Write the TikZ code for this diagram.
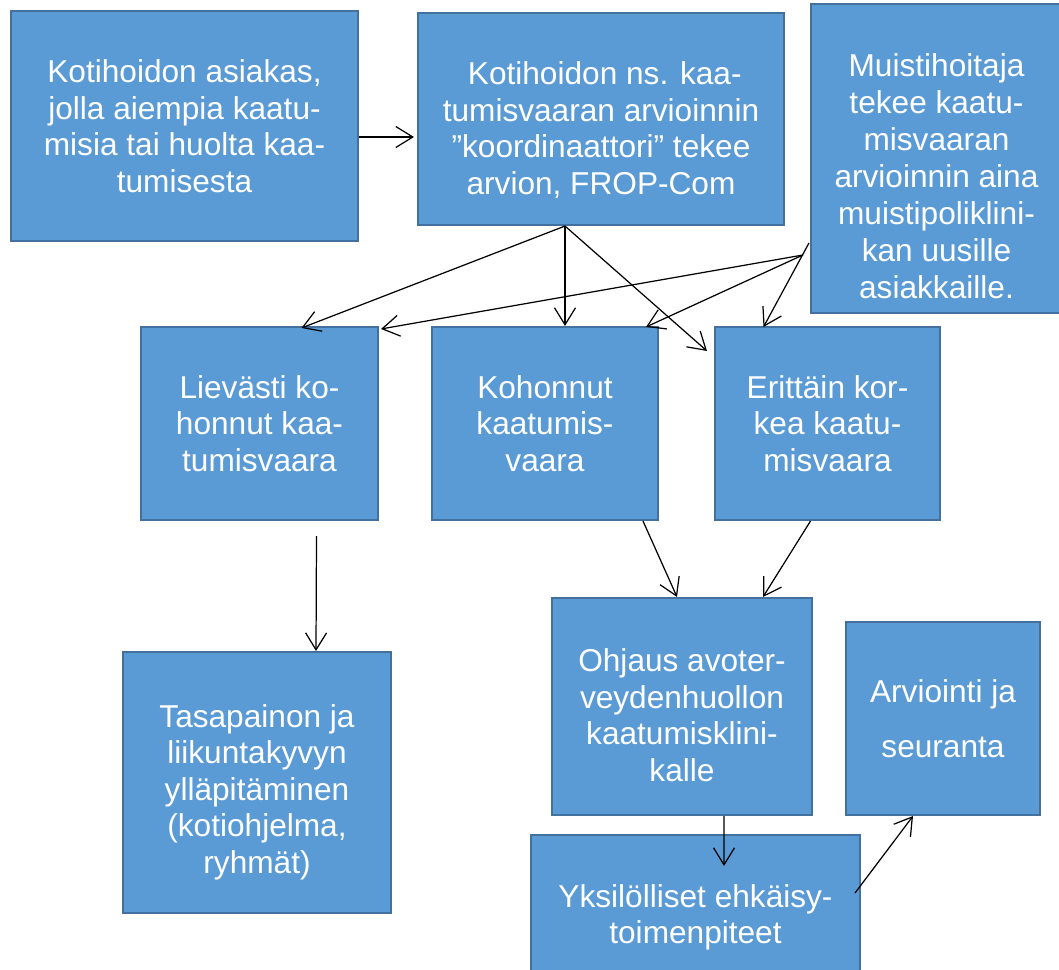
\documentclass[tikz,border=0pt]{standalone}
\usepackage{fontspec}
\setmainfont{Liberation Sans}
\usepackage{xcolor}
\usetikzlibrary{arrows.meta,calc}
\definecolor{boxfill}{RGB}{91,155,213}
\definecolor{boxline}{RGB}{65,113,156}

\tikzset{
	box/.style={draw=boxline,line width=1.2pt,fill=boxfill,text=white,align=center,inner sep=0pt,
		font=\fontsize{18}{20.8}\selectfont},
	flow/.style={-{Straight Barb[length=0.34cm,width=0.42cm]},line width=0.7pt}
}

\begin{document}
\begin{tikzpicture}[x=0.02cm,y=-0.02cm]
	\useasboundingbox (0,0) rectangle (1059,970);
	\node[box,minimum width=6.94cm,minimum height=4.6cm] (asiakas) at (184.5,126)
		{Kotihoidon asiakas,\\jolla aiempia kaatu-\\misia tai huolta kaa-\\tumisesta};
	\node[box,minimum width=7.32cm,minimum height=4.24cm] (koord) at (601,119)
		{\rule{0pt}{25.5pt}\hspace{0.15cm}Kotihoidon ns. kaa-\\tumisvaaran arvioinnin\\”koordinaattori” tekee\\arvion, FROP-Com};
	\node[box,minimum width=5.02cm,minimum height=6.18cm,font=\fontsize{18}{21}\selectfont] (muisti) at (936.5,158.5)
		{\rule{0pt}{33pt}Muistihoitaja\\tekee kaatu-\\misvaaran\\arvioinnin aina\\muistipoliklini-\\kan uusille\\asiakkaille.};
	\node[box,minimum width=4.74cm,minimum height=3.86cm] (lieva) at (259.5,423.5)
		{Lievästi ko-\\honnut kaa-\\tumisvaara};
	\node[box,minimum width=4.52cm,minimum height=3.86cm] (kohon) at (545,423.5)
		{Kohonnut\\kaatumis-\\vaara};
	\node[box,minimum width=4.5cm,minimum height=3.86cm] (eritt) at (827.5,423.5)
		{Erittäin kor-\\kea kaatu-\\misvaara};
	\node[box,minimum width=5.36cm,minimum height=5.22cm] (tasap) at (257,782.5)
		{\rule{0pt}{24pt}Tasapainon ja\\liikuntakyvyn\\ylläpitäminen\\(kotiohjelma,\\ryhmät)};
	\node[box,minimum width=5.2cm,minimum height=4.34cm] (ohjaus) at (682,706.5)
		{\rule{0pt}{23pt}Ohjaus avoter-\\veydenhuollon\\kaatumisklini-\\kalle};
	\node[box,minimum width=3.88cm,minimum height=3.86cm,font=\fontsize{18}{31}\selectfont] (arvio) at (943,718.5)
		{Arviointi ja\\seuranta};
	\node[box,minimum width=6.58cm,minimum height=3.3cm] (yksil) at (695.5,917.5)
		{Yksilölliset ehkäisy-\\toimenpiteet};

	\coordinate (kjako) at ($(koord.south)+(-36,0)$);
	\coordinate (mjako) at ($(muisti.west)+(-7,96.5)$);
	\coordinate (mjako2) at ($(muisti.west)+(-1,84.5)$);

	\draw[flow] ($(asiakas.east)+(0,11)$) -- ($(koord.west)+(-3,18)$);
	\draw[flow] (kjako) -- ($(lieva.north)+(42,2)$);
	\draw[flow] (kjako) -- (kjako |- kohon.north);
	\draw[flow] (kjako) -- ($(eritt.north west)+(-7,25)$);
	\draw[flow] (mjako) -- ($(lieva.north east)+(2,3)$);
	\draw[flow] (mjako) -- ($(kohon.north east)+(-13,1)$);
	\draw[flow] (mjako2) -- ($(eritt.north)+(-64,1)$);
	\draw[flow] ($(lieva.south)+(57,15)$) -- ($(tasap.north)+(59,0)$);
	\draw[flow] ($(kohon.south)+(98,0)$) -- ($(ohjaus.north)+(-5,0)$);
	\draw[flow] ($(eritt.south)+(-17,0)$) -- ($(ohjaus.north)+(81,0)$);
	\draw[flow] ($(ohjaus.south)+(42,0)$) -- ($(yksil.north)+(28.5,32)$);
	\draw[flow] ($(yksil.east)+(-6,-24.5)$) -- ($(arvio.south)+(-30,0)$);
\end{tikzpicture}
\end{document}
